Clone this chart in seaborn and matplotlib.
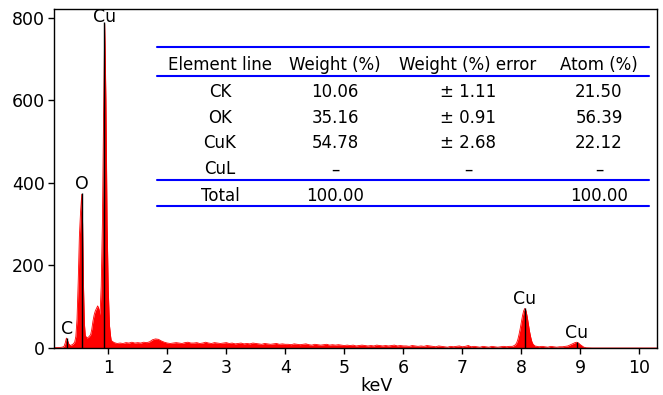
import numpy as np
import pandas as pd
import matplotlib
matplotlib.use("Agg")
import matplotlib.pyplot as plt
import seaborn as sns

# ---- EDS spectrum (energy in keV, counts) ----
kev_low = [0.08, 0.15, 0.22, 0.25, 0.27, 0.29, 0.31, 0.33, 0.36, 0.40, 0.43, 0.45,
           0.47, 0.49, 0.51, 0.53, 0.55, 0.565, 0.58, 0.595, 0.61, 0.64, 0.67, 0.70,
           0.72, 0.74, 0.76, 0.78, 0.80, 0.82, 0.84, 0.86, 0.88, 0.90, 0.92, 0.94,
           0.96, 0.98, 1.00, 1.02, 1.04]
counts_low = [1, 1, 2, 4, 12, 24, 18, 10, 6, 9, 14, 28,
              70, 160, 270, 330, 372, 300, 150, 60, 30, 24, 27, 32,
              45, 65, 80, 90, 96, 102, 95, 80, 150, 300, 560, 785,
              600, 300, 140, 55, 28]

# background continuum 1.05 - 7.80 keV, 0.05 keV steps
kev_bg = [round(1.05 + 0.05 * i, 2) for i in range(136)]
counts_bg = [18, 13, 11, 12, 11, 13, 12, 14, 12, 13, 12, 14, 13, 15,
             20, 22, 21, 17, 14, 12,
             11, 12, 13, 12, 11, 13, 14, 12, 12, 13, 11, 12, 14, 12, 11, 13, 12, 11, 12, 13,
             11, 12, 10, 11, 12, 10, 11, 10, 12, 11, 10, 9, 11, 10, 9, 10, 11, 9, 10, 9,
             9, 8, 10, 9, 8, 9, 10, 8, 7, 9, 8, 7, 8, 9, 7, 8, 7, 8, 7, 6,
             7, 6, 7, 5, 6, 7, 6, 5, 6, 5, 7, 6, 5, 6, 5, 6, 7, 5, 6, 5,
             5, 4, 6, 5, 4, 5, 4, 6, 5, 4, 3, 5, 4, 3, 2, 4, 3, 4, 5, 3,
             4, 6, 3, 4, 3, 2, 4, 3, 2, 4, 3, 2, 3, 4, 3, 4]

kev_high = [7.85, 7.88, 7.90, 7.92, 7.94, 7.96, 7.98, 8.00, 8.02, 8.04, 8.06, 8.08,
            8.10, 8.12, 8.14, 8.16, 8.18, 8.20, 8.23, 8.27,
            8.30, 8.35, 8.40, 8.45, 8.50, 8.55, 8.60, 8.65, 8.70, 8.75,
            8.79, 8.82, 8.85, 8.88, 8.91, 8.94, 8.97, 9.00, 9.03, 9.06, 9.10, 9.20, 10.30]
counts_high = [4, 6, 8, 12, 20, 32, 46, 62, 78, 90, 96, 90,
               76, 58, 40, 26, 15, 9, 5, 4,
               3, 4, 3, 2, 4, 3, 2, 3, 3, 4,
               5, 7, 9, 11, 13, 14, 12, 8, 5, 2, 0.5, 0, 0]

# identified peaks
peak_labels = ["C", "O", "Cu", "Cu", "Cu"]
peak_kev = [0.295, 0.549, 0.932, 8.06, 8.94]
peak_counts = [25, 375, 790, 96, 14]

# quantification table
table_header = ["Element line", "Weight (%)", "Weight (%) error", "Atom (%)"]
element_lines = ["CK", "OK", "CuK", "CuL", "Total"]
weight_pct = ["10.06", "35.16", "54.78", "\u2013", "100.00"]
weight_err = ["\u00b1 1.11", "\u00b1 0.91", "\u00b1 2.68", "\u2013", ""]
atom_pct = ["21.50", "56.39", "22.12", "\u2013", "100.00"]

x_ticks = [1, 2, 3, 4, 5, 6, 7, 8, 9, 10]
y_ticks = [0, 200, 400, 600, 800]

spec = pd.DataFrame({"keV": kev_low + kev_bg + kev_high,
                     "counts": counts_low + counts_bg + counts_high})

sns.set_theme(style="ticks")
plt.rcParams["font.family"] = ["DejaVu Sans"]

W, H = 663, 395
fig = plt.figure(figsize=(W / 100, H / 100), dpi=100)
L, R, T, B = 54, 657, 9, 348
ax = fig.add_axes([L / W, (H - B) / H, (R - L) / W, (B - T) / H])

ax.fill_between(spec["keV"], 0, spec["counts"], color="#ff0000", lw=0)
sns.lineplot(data=spec, x="keV", y="counts", ax=ax, color="#ff0000", lw=0.6)
ax.vlines(peak_kev, 0, peak_counts, color="black", lw=1.0)

for lab, xk, yc in zip(peak_labels, peak_kev, peak_counts):
    off = 0 if yc > 700 else 3
    ax.annotate(lab, (xk, yc), xytext=(0, off), textcoords="offset points",
                ha="center", va="baseline", fontsize=12.5, color="black")

ax.set_xlim(0.08, 10.3)
ax.set_ylim(0, 821)
ax.set_xticks(x_ticks)
ax.set_yticks(y_ticks)
ax.tick_params(axis="both", direction="out", length=4.5, width=1.0,
               labelsize=12.5, colors="black")
ax.tick_params(axis="y", pad=2)
ax.tick_params(axis="x", pad=3.5)
for s in ax.spines.values():
    s.set_visible(True)
    s.set_color("black")
    s.set_linewidth(1.0)
ax.set_ylabel("")
ax.set_xlabel("keV", fontsize=12.5, color="black")
ax.xaxis.set_label_coords((377 - L) / (R - L), (B - 377) / (B - T))


def fx(px):
    return (px - L) / (R - L)


def fy(py):
    return (B - py) / (B - T)


# table rules
for py in [47, 76, 180, 206]:
    ax.plot([fx(157), fx(649)], [fy(py), fy(py)], transform=ax.transAxes,
            color="#0000ff", lw=1.5, clip_on=False)

col_x = [220, 335, 468, 599]
header_base = 70
row_base = [96.7, 122.7, 147.7, 174.3, 200.7]
for cx, txt in zip(col_x, table_header):
    ax.text(fx(cx), fy(header_base), txt, transform=ax.transAxes,
            ha="center", va="baseline", fontsize=12, color="black")
columns = [element_lines, weight_pct, weight_err, atom_pct]
for cx, col in zip(col_x, columns):
    for by, txt in zip(row_base, col):
        ax.text(fx(cx), fy(by), txt, transform=ax.transAxes,
                ha="center", va="baseline", fontsize=12, color="black")

fig.savefig("out.png", dpi=100)
